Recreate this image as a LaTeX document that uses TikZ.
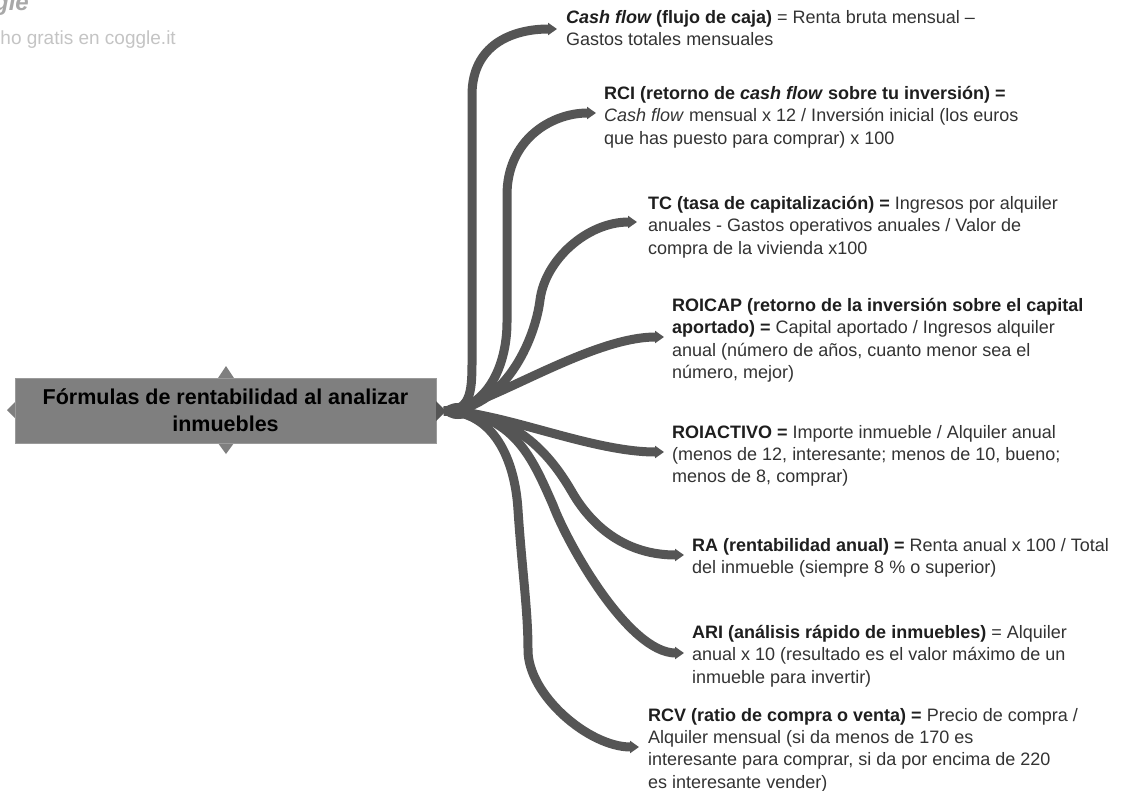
\documentclass[tikz,border=0pt]{standalone}
\usepackage{fontspec}
\setmainfont{Liberation Sans}
\usetikzlibrary{arrows.meta}
\definecolor{br}{HTML}{555555}
\definecolor{txt}{HTML}{333333}
\definecolor{bold}{HTML}{1e1e1e}
\definecolor{cfill}{HTML}{7f7f7f}
\definecolor{cline}{HTML}{9a9a9a}
\definecolor{wm}{HTML}{c4c4c4}
\definecolor{wmlogo}{HTML}{a8a8a8}
\newcommand{\bb}[1]{{\bfseries\color{bold}#1}}
\newcommand{\bi}[1]{{\bfseries\itshape\color{bold}#1}}
\begin{document}
\begin{tikzpicture}[x=1pt,y=-1pt,
  lab/.style={anchor=north west, inner sep=0pt, align=left, font=\fontsize{18}{22.3}\selectfont, text=txt},
  branch/.style={draw=br, line width=9pt, -{Triangle[length=9pt,width=12pt]}}]
\useasboundingbox (0,0) rectangle (1126,790);
\clip (0,0) rectangle (1126,790);
\fill[white] (0,0) rectangle (1126,790);
% watermark
\node[anchor=base east, inner sep=0pt, text=wmlogo, font=\fontsize{24}{24}\selectfont\bfseries\itshape] (logo) at (29,10) {Coggle};
\node[anchor=east, inner sep=0pt, text=wm, font=\fontsize{19}{21}\selectfont] (made) at (176,40) {Hecho gratis en coggle.it};
% central node
\fill[cfill] (218,378) -- (226,366) -- (234,378) -- cycle;
\fill[cfill] (218,443) -- (226,454) -- (234,443) -- cycle;
\fill[cfill] (15,402) -- (7,410) -- (15,418) -- cycle;
\node[draw=cline, fill=cfill, line width=0.8pt, minimum width=421pt, minimum height=65pt, inner sep=0pt, align=center, text=black, font=\fontsize{21.5}{27}\selectfont\bfseries] (c) at (225.5,410.5) {Fórmulas de rentabilidad al analizar\\inmuebles};
\fill[br] (436,401) -- (446,411) -- (436,421) -- cycle;
\coordinate (root) at (444,411);
\fill[br] (458,411) ellipse [x radius=14pt, y radius=8pt];
% labels
\node[lab] (n1) at (566,10) {\bi{Cash flow} \bb{(flujo de caja)} = Renta bruta mensual –\\Gastos totales mensuales};
\node[lab] (n2) at (604,86) {\bb{RCI (retorno de \textit{cash flow} sobre tu inversión) =}\\\textit{Cash flow} mensual x 12 / Inversión inicial (los euros\\que has puesto para comprar) x 100};
\node[lab] (n3) at (648,196) {\bb{TC (tasa de capitalización) =} Ingresos por alquiler\\anuales - Gastos operativos anuales / Valor de\\compra de la vivienda x100};
\node[lab] (n4) at (672,298) {\bb{ROICAP (retorno de la inversión sobre el capital}\\\bb{aportado) =} Capital aportado / Ingresos alquiler\\anual (número de años, cuanto menor sea el\\número, mejor)};
\node[lab] (n5) at (672,425) {\bb{ROIACTIVO =} Importe inmueble / Alquiler anual\\(menos de 12, interesante; menos de 10, bueno;\\menos de 8, comprar)};
\node[lab] (n6) at (692,538) {\bb{RA (rentabilidad anual) =} Renta anual x 100 / Total\\del inmueble (siempre 8 \% o superior)};
\node[lab] (n7) at (692,625) {\bb{ARI (análisis rápido de inmuebles)} = Alquiler\\anual x 10 (resultado es el valor máximo de un\\inmueble para invertir)};
\node[lab] (n8) at (648,708) {\bb{RCV (ratio de compra o venta) =} Precio de compra /\\Alquiler mensual (si da menos de 170 es\\interesante para comprar, si da por encima de 220\\es interesante vender)};
% tips
\coordinate (t1) at (557,29);
\coordinate (t2) at (596,113);
\coordinate (t3) at (637,222);
\coordinate (t4) at (664,337);
\coordinate (t5) at (664,452);
\coordinate (t6) at (684,555);
\coordinate (t7) at (684,653);
\coordinate (t8) at (639,747);
% branches
\draw[branch] (root) .. controls +(26,0) and +(0,32) .. (472,362) -- (472,95) .. controls +(0,-50) and +(-45,0) .. (t1);
\draw[branch] (root) .. controls +(42,0) and +(0,45) .. (507,322) -- (507,195) .. controls +(0,-55) and +(-45,0) .. (t2);
\draw[branch] (root) .. controls +(60,0) and +(-5,40) .. (540,300) .. controls +(5,-40) and +(-50,0) .. (t3);
\draw[branch] (root) .. controls +(46,-6) and +(-74,0) .. (t4);
\draw[branch] (root) .. controls +(56,0) and +(-74,0) .. (t5);
\draw[branch] (root) .. controls +(70,0) and +(-22,-38) .. (572,492) .. controls +(22,38) and +(-55,0) .. (t6);
\draw[branch] (root) .. controls +(70,0) and +(-20,-45) .. (553,505) .. controls +(15,40) and +(-55,0) .. (t7);
\draw[branch] (root) .. controls +(50,0) and +(-3,-50) .. (518,510) .. controls +(4,60) and +(0,-40) .. (528,650) .. controls +(0,45) and +(-50,0) .. (t8);
\end{tikzpicture}
\end{document}
